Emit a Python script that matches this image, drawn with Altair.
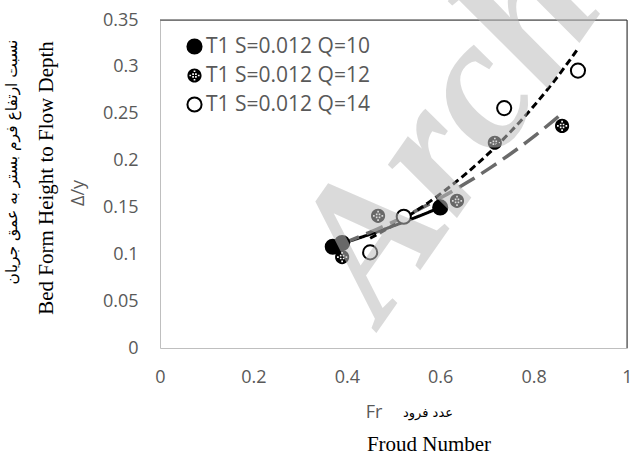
import altair as alt
import pandas as pd

# ---- data ----
series_names = ["T1 S=0.012 Q=10", "T1 S=0.012 Q=12", "T1 S=0.012 Q=14"]
fr_q10 = [0.37, 0.39, 0.60]
dy_q10 = [0.108, 0.112, 0.150]
fr_q12 = [0.39, 0.467, 0.636, 0.717, 0.861]
dy_q12 = [0.097, 0.141, 0.157, 0.219, 0.237]
fr_q14 = [0.45, 0.522, 0.737, 0.895]
dy_q14 = [0.102, 0.140, 0.256, 0.296]
x_ticks = [0, 0.2, 0.4, 0.6, 0.8, 1]
y_ticks = [0, 0.05, 0.1, 0.15, 0.2, 0.25, 0.3, 0.35]

rows = []
for name, xs, ys in zip(series_names, [fr_q10, fr_q12, fr_q14], [dy_q10, dy_q12, dy_q14]):
    for a, b in zip(xs, ys):
        rows.append({"series": name, "Fr": a, "dy": b})
df = pd.DataFrame(rows)

# hatched circle: black disc with white square holes (opposite winding)
def sq(cx, cy, s):
    x0, y0 = cx - s / 2, cy - s / 2
    return f"M{x0:.3f},{y0:.3f}v{s:.3f}h{s:.3f}v{-s:.3f}Z"

hatch = "M-1,0A1,1,0,1,1,1,0A1,1,0,1,1,-1,0Z"
for cx, cy in [(-0.2, -0.2), (0.2, -0.2), (-0.2, 0.2), (0.2, 0.2),
               (0, -0.6), (0, 0.6), (-0.6, 0), (0.6, 0)]:
    hatch += sq(cx, cy, 0.24)

gray = "#595959"
xsc = alt.Scale(domain=[0, 1], nice=False, zero=True)
ysc = alt.Scale(domain=[0, 0.35], nice=False, zero=True)

xenc = alt.X("Fr:Q", scale=xsc, axis=alt.Axis(values=x_ticks, format=".1~f", title=None,
             grid=False, ticks=False, domain=False, labelFontSize=18, labelColor=gray,
             labelFont="Open Sans", labelPadding=20, labelFlush=False))
yenc = alt.Y("dy:Q", scale=ysc, axis=alt.Axis(values=y_ticks, format=".2~f", title=None,
             grid=False, ticks=False, domain=False, labelFontSize=18, labelColor=gray,
             labelFont="Open Sans", labelPadding=22))

base = alt.Chart(df)

def trend(name, color, dash, width):
    return base.transform_filter(alt.datum.series == name).transform_regression(
        "Fr", "dy", method="exp").mark_line(color=color, strokeDash=dash, strokeWidth=width,
        strokeCap="butt").encode(x=alt.X("Fr:Q", scale=xsc), y=alt.Y("dy:Q", scale=ysc))

t10 = trend(series_names[0], "black", [1, 0], 3)
t12 = trend(series_names[1], "#6a6a6a", [18, 8], 3.5)
t14 = trend(series_names[2], "black", [7, 4], 3)

points = base.mark_point(filled=False, opacity=1, size=200, strokeWidth=2).encode(
    x=xenc, y=yenc,
    shape=alt.Shape("series:N", scale=alt.Scale(domain=series_names, range=["circle", hatch, "circle"]),
                    legend=alt.Legend(title=None, orient="none", legendX=24, legendY=16,
                                      labelFontSize=21, labelColor=gray, labelFont="Open Sans",
                                      labelLimit=400, symbolSize=200, rowPadding=6, labelOffset=1,
                                      symbolStrokeWidth=2)),
    fill=alt.Fill("series:N", scale=alt.Scale(domain=series_names, range=["black", "black", "white"]), legend=None),
    stroke=alt.Stroke("series:N", scale=alt.Scale(domain=series_names,
                      range=["black", "rgba(0,0,0,0)", "black"]), legend=None),
)

def label(txt, x, y, size, font, color="black", angle=0):
    return alt.Chart(pd.DataFrame({"t": [txt]})).mark_text(
        fontSize=size, font=font, color=color, angle=angle, align="center", baseline="middle"
    ).encode(text="t:N", x=alt.value(x), y=alt.value(y))

texts = [
    label("نسبت ارتفاع فرم بستر به عمق جریان", -148, 142, 15.5, "DejaVu Sans", "black", 270),
    label("Bed Form Height to Flow Depth", -113, 158, 21, "Liberation Serif", "black", 270),
    label("Δ/y", -81, 173, 18, "Open Sans", gray, 270),
    label("Fr", 214, 393, 18, "Open Sans", gray),
    label("عدد فرود", 268, 393, 13, "DejaVu Sans", "black"),
    label("Froud Number", 269, 425, 21, "Liberation Serif", "black"),
]

watermark = alt.Chart(pd.DataFrame({"t": ["Arch"]})).mark_text(
    fontSize=190, font="Liberation Serif", fontStyle="italic", fontWeight="bold",
    color="#bdbdbd", opacity=0.55, angle=305, align="left", baseline="alphabetic"
).encode(text="t:N", x=alt.value(222), y=alt.value(305))

frame_top = alt.Chart(pd.DataFrame({"t": [0]})).mark_rule(color="#333333", strokeWidth=1).encode(
    x=alt.value(0), x2=alt.value(467), y=alt.value(0))
frame_right = alt.Chart(pd.DataFrame({"t": [0]})).mark_rule(color="#333333", strokeWidth=1).encode(
    x=alt.value(467), y=alt.value(0), y2=alt.value(328))

chart = alt.layer(frame_top, frame_right, t10, t12, t14, points, watermark, *texts).properties(
    width=467, height=328,
    autosize=alt.AutoSizeParams(type="none"),
    padding={"left": 160, "top": 20, "right": 8, "bottom": 109},
).configure_view(stroke="#bfbfbf", strokeWidth=1)

chart.save("out.html", embed_options={"renderer": "svg", "actions": False})
